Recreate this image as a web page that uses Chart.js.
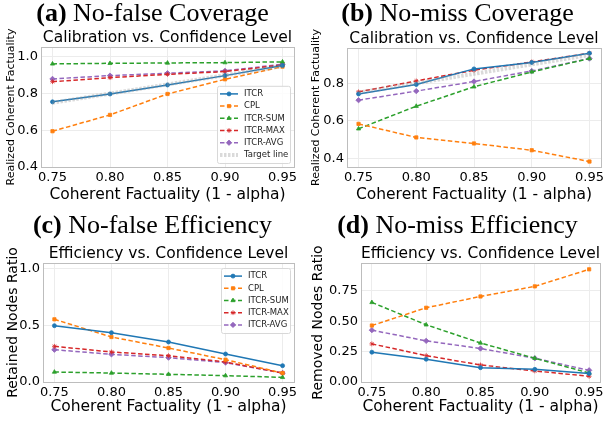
<!DOCTYPE html>
<html>
<head>
<meta charset="utf-8">
<script src="https://cdn.jsdelivr.net/npm/chart.js@4.4.0/dist/chart.umd.min.js"></script>
<style>
  html, body { margin: 0; padding: 0; background: #fff; }
  #wrap { position: relative; width: 610px; height: 421px; overflow: hidden; }
  .panel { position: absolute; width: 305px; height: 210px; }
  .panel canvas { position: absolute; left: 0; top: 0; }
  .head {
    position: absolute; left: 0; top: 0; width: 305px; text-align: center;
    font-family: "Liberation Serif", "DejaVu Serif", serif; font-size: 26px; line-height: 25px;
    color: #000; white-space: nowrap; z-index: 2;
  }
</style>
</head>
<body>
<div id="wrap">
  <div class="panel" style="left:0;top:0"><div class="head"><b>(a)</b> No-false Coverage</div><canvas id="cA" width="305" height="210"></canvas></div>
  <div class="panel" style="left:305px;top:0"><div class="head"><b>(b)</b> No-miss Coverage</div><canvas id="cB" width="305" height="210"></canvas></div>
  <div class="panel" style="left:0;top:210px"><div class="head" style="top:2px"><b>(c)</b> No-false Efficiency</div><canvas id="cC" width="305" height="210"></canvas></div>
  <div class="panel" style="left:305px;top:210px"><div class="head" style="top:2px"><b>(d)</b> No-miss Efficiency</div><canvas id="cD" width="305" height="210"></canvas></div>
</div>
<script>
// x values: coherent factuality level (1 - alpha)
const levels = [0.75, 0.80, 0.85, 0.90, 0.95];
const xTicks = [0.75, 0.80, 0.85, 0.90, 0.95];

// (a) no-false coverage
const itcrA = [0.755, 0.798, 0.847, 0.898, 0.953];
const cplA  = [0.595, 0.684, 0.798, 0.878, 0.947];
const sumA  = [0.962, 0.965, 0.967, 0.969, 0.973];
const maxA  = [0.865, 0.887, 0.905, 0.920, 0.956];
const avgA  = [0.880, 0.898, 0.911, 0.924, 0.960];
const targetLine = [0.75, 0.80, 0.85, 0.90, 0.95];
const yTicksA = [0.4, 0.6, 0.8, 1.0];

// (b) no-miss coverage
const itcrB = [0.743, 0.793, 0.876, 0.910, 0.959];
const cplB  = [0.584, 0.512, 0.480, 0.444, 0.384];
const sumB  = [0.558, 0.678, 0.781, 0.860, 0.931];
const maxB  = [0.754, 0.812, 0.869, 0.913, 0.959];
const avgB  = [0.710, 0.758, 0.809, 0.865, 0.931];
const yTicksB = [0.4, 0.6, 0.8];

// (c) no-false efficiency (retained nodes)
const itcrC = [0.497, 0.435, 0.353, 0.247, 0.144];
const cplC  = [0.553, 0.397, 0.300, 0.197, 0.079];
const sumC  = [0.088, 0.079, 0.068, 0.056, 0.041];
const maxC  = [0.315, 0.265, 0.232, 0.176, 0.079];
const avgC  = [0.285, 0.244, 0.215, 0.171, 0.079];
const yTicksC = [0.0, 0.5, 1.0];

// (d) no-miss efficiency (removed nodes)
const itcrD = [0.245, 0.187, 0.118, 0.104, 0.069];
const cplD  = [0.464, 0.610, 0.703, 0.786, 0.926];
const sumD  = [0.654, 0.470, 0.321, 0.195, 0.074];
const maxD  = [0.313, 0.217, 0.140, 0.091, 0.047];
const avgD  = [0.426, 0.338, 0.275, 0.195, 0.096];
const yTicksD = [0.0, 0.25, 0.5, 0.75];

const SANS = "'DejaVu Sans', sans-serif";
const colors = { itcr: '#1f77b4', cpl: '#ff7f0e', sum: '#2ca02c', max: '#d62728', avg: '#9467bd' };
const dash = [4.5, 2.5];

function pts(vals) {
  return vals.map((v, i) => ({ x: levels[i], y: v }));
}

function series(a, b, c, d, e, withTarget) {
  const common = { borderWidth: 1.5, pointBorderWidth: 0.8 };
  const out = [
    { ...common, label: 'ITCR', data: pts(a), borderColor: colors.itcr, backgroundColor: colors.itcr,
      pointStyle: 'circle', pointRadius: 2 },
    { ...common, label: 'CPL', data: pts(b), borderColor: colors.cpl, backgroundColor: colors.cpl,
      borderDash: dash, pointStyle: 'rect', pointRadius: 2.3 },
    { ...common, label: 'ITCR-SUM', data: pts(c), borderColor: colors.sum, backgroundColor: colors.sum,
      borderDash: dash, pointStyle: 'triangle', pointRadius: 2.4 },
    { ...common, label: 'ITCR-MAX', data: pts(d), borderColor: colors.max, backgroundColor: colors.max,
      borderDash: dash, pointStyle: 'star', pointRadius: 2.4 },
    { ...common, label: 'ITCR-AVG', data: pts(e), borderColor: colors.avg, backgroundColor: colors.avg,
      borderDash: dash, pointStyle: 'rectRot', pointRadius: 2.7 }
  ];
  if (withTarget) {
    out.unshift({ label: 'Target line', data: pts(targetLine), borderColor: 'rgba(150,150,150,0.35)',
      backgroundColor: 'rgba(150,150,150,0.35)', borderWidth: 4, borderDash: [2.5, 1.5], pointRadius: 0,
      legendLast: true });
  }
  return out;
}

// frame around the plotting area
const frame = {
  id: 'frame',
  afterDatasetsDraw(chart) {
    const { ctx, chartArea: ca } = chart;
    ctx.save();
    ctx.strokeStyle = '#bdbdbd';
    ctx.lineWidth = 1;
    ctx.strokeRect(Math.round(ca.left) + 0.5, Math.round(ca.top) + 0.5,
      Math.round(ca.right - ca.left), Math.round(ca.bottom - ca.top));
    ctx.restore();
  }
};

// legend box drawn inside the plot area, matplotlib style
const boxLegend = {
  id: 'boxLegend',
  afterDraw(chart, args, opts) {
    if (!opts.show) return;
    const { ctx, chartArea: ca } = chart;
    let items = chart.data.datasets.filter(d => !d.legendLast);
    items = items.concat(chart.data.datasets.filter(d => d.legendLast));
    const rowH = 12.2, w = opts.width, h = items.length * rowH + 4;
    const x0 = ca.right - opts.right - w;
    const y0 = opts.top != null ? ca.top + opts.top : ca.bottom - opts.bottom - h;
    ctx.save();
    ctx.fillStyle = 'rgba(255,255,255,0.85)';
    ctx.strokeStyle = '#d8d8d8';
    ctx.lineWidth = 1;
    ctx.beginPath();
    ctx.roundRect(x0 + 0.5, y0 + 0.5, w, h, 2);
    ctx.fill();
    ctx.stroke();
    items.forEach((ds, i) => {
      const cy = y0 + 2 + rowH * (i + 0.5);
      ctx.strokeStyle = ds.borderColor;
      ctx.lineWidth = ds.borderWidth;
      ctx.setLineDash(ds.borderDash || []);
      ctx.beginPath();
      ctx.moveTo(x0 + 3, cy);
      ctx.lineTo(x0 + 21, cy);
      ctx.stroke();
      ctx.setLineDash([]);
      if (ds.pointRadius > 0) {
        ctx.fillStyle = ds.backgroundColor;
        ctx.lineWidth = 0.8;
        Chart.helpers.drawPoint(ctx, { pointStyle: ds.pointStyle, radius: ds.pointRadius, rotation: 0, borderWidth: 0.8 }, x0 + 12, cy);
      }
      ctx.fillStyle = '#222';
      ctx.font = "8.5px " + SANS;
      ctx.textBaseline = 'middle';
      ctx.textAlign = 'left';
      ctx.fillText(ds.label, x0 + 27, cy);
    });
    ctx.restore();
  }
};

function makeChart(id, opt) {
  return new Chart(document.getElementById(id), {
    type: 'line',
    data: { datasets: opt.datasets },
    plugins: [frame, boxLegend],
    options: {
      responsive: false,
      animation: false,
      layout: { padding: { top: opt.top - 18.6, right: opt.right, bottom: 0, left: 0 } },
      elements: { line: { tension: 0 } },
      plugins: {
        legend: { display: false },
        tooltip: { enabled: false },
        title: {
          display: true, text: opt.subtitle, fullSize: false, color: '#000',
          font: { family: SANS, size: 15.5, weight: 'normal' }, padding: { top: 0, bottom: 0 }
        },
        boxLegend: opt.legend || { show: false }
      },
      scales: {
        x: {
          type: 'linear', min: 0.74, max: 0.96,
          afterBuildTicks: s => { s.ticks = xTicks.map(v => ({ value: v })); },
          afterFit: s => { s.height = 210 - opt.bottom; },
          grid: { color: '#ececec', drawTicks: false },
          border: { display: false },
          ticks: { color: '#000', padding: 3, font: { family: SANS, size: 13 }, maxRotation: 0,
            callback: v => v.toFixed(2) },
          title: { display: true, text: 'Coherent Factuality (1 - alpha)', color: '#000',
            font: { family: SANS, size: 15.5 }, padding: { top: 0, bottom: opt.xtitlePad } }
        },
        y: {
          min: opt.ymin, max: opt.ymax,
          afterBuildTicks: s => { s.ticks = opt.yTicks.map(v => ({ value: v })); },
          afterFit: s => { s.width = opt.left; },
          grid: { color: '#ececec', drawTicks: false },
          border: { display: false },
          ticks: { color: '#000', padding: 3, font: { family: SANS, size: 13 },
            callback: v => v.toFixed(opt.digits) },
          title: { display: true, text: opt.ytitle, color: '#000',
            font: { family: SANS, size: opt.ytitleSize }, padding: { top: opt.ytitlePad, bottom: 0 } }
        }
      }
    }
  });
}

makeChart('cA', {
  datasets: series(itcrA, cplA, sumA, maxA, avgA, true),
  subtitle: 'Calibration vs. Confidence Level',
  ytitle: 'Realized Coherent Factuality', ytitleSize: 11, ytitlePad: 5,
  ymin: 0.4, ymax: 1.054, yTicks: yTicksA, digits: 1,
  top: 47, bottom: 167, left: 41, right: 11, xtitlePad: 6,
  legend: { show: true, width: 73, right: 4, bottom: 4 }
});
makeChart('cB', {
  datasets: series(itcrB, cplB, sumB, maxB, avgB, true),
  subtitle: 'Calibration vs. Confidence Level',
  ytitle: 'Realized Coherent Factuality', ytitleSize: 11, ytitlePad: 5,
  ymin: 0.355, ymax: 0.987, yTicks: yTicksB, digits: 1,
  top: 48, bottom: 167, left: 42, right: 9, xtitlePad: 6
});
makeChart('cC', {
  datasets: series(itcrC, cplC, sumC, maxC, avgC, false),
  subtitle: 'Efficiency vs. Confidence Level',
  ytitle: 'Retained Nodes Ratio', ytitleSize: 14, ytitlePad: 4.5,
  ymin: 0, ymax: 1.05, yTicks: yTicksC, digits: 1,
  top: 53, bottom: 172, left: 43, right: 11, xtitlePad: 4,
  legend: { show: true, width: 69, right: 4, top: 5 }
});
makeChart('cD', {
  datasets: series(itcrD, cplD, sumD, maxD, avgD, false),
  subtitle: 'Efficiency vs. Confidence Level',
  ytitle: 'Removed Nodes Ratio', ytitleSize: 14, ytitlePad: 4.5,
  ymin: 0, ymax: 0.978, yTicks: yTicksD, digits: 2,
  top: 53, bottom: 172, left: 56, right: 10, xtitlePad: 4
});
</script>
</body>
</html>
